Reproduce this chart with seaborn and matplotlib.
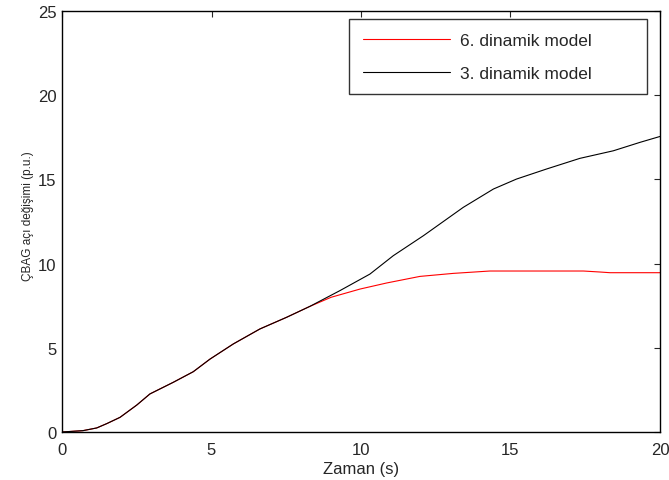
import matplotlib
matplotlib.use("Agg")
import matplotlib.pyplot as plt
import seaborn as sns

# values
t_common = [0.0, 0.7, 1.16, 1.5, 1.94, 2.5, 2.94, 3.72, 4.39, 4.95, 5.73, 6.62, 7.51, 8.29]
y_common = [0.0, 0.08, 0.24, 0.5, 0.87, 1.6, 2.26, 2.95, 3.58, 4.33, 5.23, 6.12, 6.81, 7.46]

t_model6 = t_common + [9.0, 9.97, 10.86, 11.97, 13.09, 14.31, 17.44, 18.0, 18.33, 20.0]
y_model6 = y_common + [8.0, 8.49, 8.85, 9.24, 9.42, 9.56, 9.56, 9.5, 9.46, 9.46]

t_model3 = t_common + [9.3, 10.3, 11.08, 12.09, 13.42, 14.43, 15.2, 16.21, 17.32, 18.44, 19.33, 20.0]
y_model3 = y_common + [8.4, 9.38, 10.47, 11.66, 13.34, 14.43, 15.02, 15.62, 16.25, 16.7, 17.2, 17.55]

labels = ["6. dinamik model", "3. dinamik model"]

sns.set_style("white")
plt.rcParams['font.family'] = ['Liberation Sans', 'DejaVu Sans']

fig = plt.figure(figsize=(6.69, 4.81), dpi=100)
ax = fig.add_axes([0.0927, 0.0998, 0.8938, 0.8752])

sns.lineplot(x=t_model6, y=y_model6, color="#ff0000", linewidth=0.8, label=labels[0], ax=ax)
sns.lineplot(x=t_model3, y=y_model3, color="black", linewidth=0.8, label=labels[1], ax=ax)

ax.set_xlim(0, 20)
ax.set_ylim(0, 25)
ax.set_xticks([0, 5, 10, 15, 20])
ax.set_yticks([0, 5, 10, 15, 20, 25])
ax.tick_params(direction="in", top=True, right=True, length=4, width=0.8,
               labelsize=12)
ax.tick_params(axis="x", pad=7)
ax.tick_params(axis="y", pad=4)
for s in ax.spines.values():
    s.set_visible(True)
    s.set_color("black")
    s.set_linewidth(1.0)

ax.set_xlabel("Zaman (s)", fontsize=12, labelpad=3)
ax.set_ylabel("ÇBAG açı değişimi (p.u.)", fontsize=8.5)
ax.yaxis.set_label_coords(-0.047, 0.515)

leg = ax.legend(loc="upper left", bbox_to_anchor=(0.48, 0.0, 0.498, 0.981),
                mode="expand", fontsize=12.5,
                frameon=True, fancybox=False, edgecolor="black",
                handlelength=5.0, handletextpad=0.6, labelspacing=1.0,
                borderpad=0.8, borderaxespad=0)
leg.get_frame().set_linewidth(1.0)
leg.get_frame().set_boxstyle("square", pad=0)

fig.savefig("out.png", dpi=100)
